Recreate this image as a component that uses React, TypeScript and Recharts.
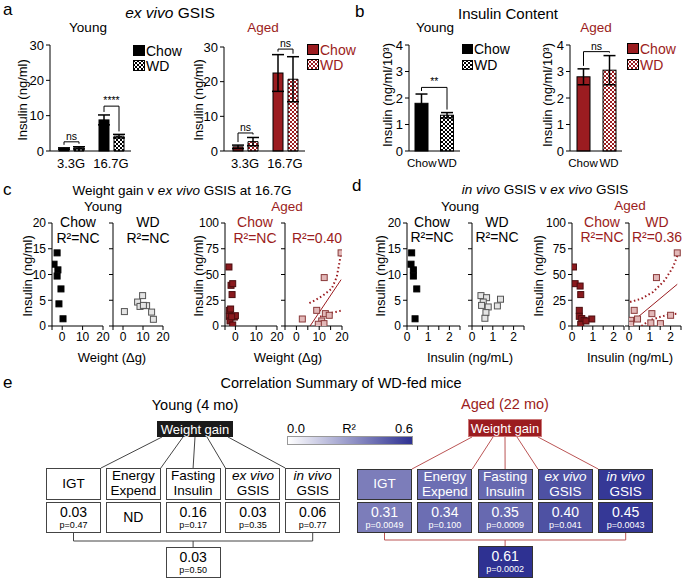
import React from 'react'
import { BarChart, Bar, XAxis, YAxis, ErrorBar, ScatterChart, Scatter } from 'recharts'

const FONT = 'Arial, "Liberation Sans", Helvetica, sans-serif'
const RED = '#9b1c20'
const NAVY = '#2e3192'

// a: ex vivo GSIS
const glucose = ['3.3G', '16.7G']
const gsisYoungChow = [0.7, 8.8]
const gsisYoungChowErr = [0.2, 1.4]
const gsisYoungWd = [0.9, 4.2]
const gsisYoungWdErr = [0.3, 0.5]
const gsisAgedChow = [1.2, 22.5]
const gsisAgedChowErr = [0.5, 5.3]
const gsisAgedWd = [2.7, 20.7]
const gsisAgedWdErr = [1.2, 6.5]
const gsisYoungSig: [number, string][] = [[2.6, 'ns'], [12.7, '****']]
const gsisAgedSig: [number, string][] = [[5.2, 'ns'], [29.4, 'ns']]
const gsisTicks = [0, 10, 20, 30]

// b: insulin content
const diets = ['Chow', 'WD']
const contentYoung = [1.8, 1.35]
const contentYoungErr = [0.35, 0.1]
const contentAged = [2.8, 3.05]
const contentAgedErr = [0.3, 0.55]
const contentYoungSig: [number, string] = [2.4, '**']
const contentAgedSig: [number, string] = [3.75, 'ns']
const contentTicks = [0, 1, 2, 3, 4]

// c: weight gain v ex vivo GSIS at 16.7G
const wgTicks = [-5, 0, 5, 10, 15, 20]
const wgLabels = [0, 10, 20]
const wgYoungChowX = [-4.0, -2.5, -2.1, -2.5, -0.6, -1.6, 0.4]
const wgYoungChowY = [12.0, 14.2, 10.9, 9.7, 7.2, 4.3, 1.4]
const wgYoungWdX = [0.7, 7.3, 9.8, 8.5, 11.8, 14.3, 15.2, 10.2]
const wgYoungWdY = [2.8, 4.65, 5.9, 3.8, 3.95, 2.7, 1.3, 4.0]
const wgAgedChowX = [-3.1, -2.1, -1.3, -1.6, -2.9, -2.3, -2.9, -0.5, -2.6, -1.3, 0.0, -1.8]
const wgAgedChowY = [57.3, 39.5, 41.1, 30.5, 15.2, 16.5, 9.4, 8.7, 4.9, 1.0, 10.0, 9.0]
const wgAgedWdX = [2.6, 8.9, 12.2, 19.6, 12.7, 14.4, 11.1, 12.1, 9.6]
const wgAgedWdY = [6.8, 15.2, 47, 71, 12, 10.4, 4.9, 2.3, 1.7]
const wgFitX = [6.0, 19.6]
const wgFitY = [0, 45]
const wgUpperX = [5.7, 8.2, 11.8, 15.5, 17.7, 19.6]
const wgUpperY = [22.3, 25, 29.8, 36.3, 47.6, 70.5]
const wgLowerX = [10.4, 13.3, 16.2, 19.6]
const wgLowerY = [9, 11.6, 13.2, 14.8]

// d: in vivo GSIS v ex vivo GSIS
const ivTicks = [0, 0.5, 1, 1.5, 2, 2.5]
const ivLabels = [0, 1, 2]
const ivYoungChowX = [0.22, 0.19, 0.3, 0.3, 0.46, 0.38]
const ivYoungChowY = [14.2, 12.0, 10.9, 9.7, 7.2, 1.4]
const ivYoungWdX = [0.43, 0.7, 0.54, 0.46, 0.78, 0.67, 0.62, 1.22, 1.37]
const ivYoungWdY = [5.9, 5.5, 4.65, 4.0, 3.7, 2.6, 1.5, 3.9, 5.2]
const ivAgedChowX = [0.07, 0.15, 0.39, 0.42, 0.35, 0.35, 0.47, 0.58, 0.42, 0.95, 0.67]
const ivAgedChowY = [57.3, 41.1, 38.8, 30.5, 15.2, 9.4, 7.2, 5.5, 1.7, 6.8, 4.9]
const ivAgedWdX = [0.08, 0.08, 0.25, 0.41, 1.32, 2.32, 1.1, 1.05, 1.51, 2.0]
const ivAgedWdY = [5.5, 1.7, 15.2, 6.8, 47, 71, 12, 3, 2.3, 10.4]
const ivFitX = [0.05, 2.32]
const ivFitY = [2.3, 40.5]
const ivUpperX = [0.05, 0.6, 1.16, 1.72, 2.12, 2.36]
const ivUpperY = [23.3, 26.5, 33, 44.4, 57.3, 70.2]
const ivLowerX = [0.6, 1.0, 1.48, 1.95, 2.36]
const ivLowerY = [0, 5.5, 8.7, 11.3, 11.9]

const smallTicks = [0, 5, 10, 15, 20]
const bigTicks = [0, 25, 50, 75, 100]

// e: correlation summary
const measures = [['IGT'], ['Energy', 'Expend'], ['Fasting', 'Insulin'], ['ex vivo', 'GSIS'], ['in vivo', 'GSIS']]
const youngR2 = ['0.03', 'ND', '0.16', '0.03', '0.06']
const youngP = ['p=0.47', '', 'p=0.17', 'p=0.35', 'p=0.77']
const agedR2 = [0.31, 0.34, 0.35, 0.40, 0.45]
const agedP = ['p=0.0049', 'p=0.100', 'p=0.0009', 'p=0.041', 'p=0.0043']
const youngTotal = ['0.03', 'p=0.50']
const agedTotal: [number, string] = [0.61, 'p=0.0002']

type Box = [number, number, number, number]
const YW = 34
const XH = 22
const MT = 10
const MR = 8
const TICK = { fontSize: 12, fill: '#000' }
const BAR_TICK = { fontSize: 13, fill: '#000' }
const AX = { stroke: '#000' }

const dims = (b: Box) => ({
  width: b[2] - b[0] + YW + MR,
  height: b[3] - b[1] + MT + XH,
  margin: { top: MT, right: MR, left: 0, bottom: 0 },
})

function Frame({ box, children }: { box: Box; children: React.ReactNode }) {
  return <div style={{ position: 'absolute', left: box[0] - YW, top: box[1] - MT }}>{children}</div>
}

function T({ x, y, s = 12, c = '#000', a = 'middle', rot = false, children, style }: any) {
  const tx = a === 'middle' ? '-50%' : a === 'end' ? '-100%' : '0'
  return (
    <div
      style={{
        position: 'absolute', left: x, top: y, fontSize: s, color: c, whiteSpace: 'nowrap', lineHeight: 1,
        transform: `translate(${tx}, -50%)${rot ? ' rotate(-90deg)' : ''}`, ...style,
      }}
    >
      {children}
    </div>
  )
}

const checker = (id: string, color: string) => (
  <pattern id={id} width={4} height={4} patternUnits="userSpaceOnUse">
    <rect width={4} height={4} fill="#fff" />
    <rect width={2} height={2} fill={color} />
    <rect x={2} y={2} width={2} height={2} fill={color} />
  </pattern>
)

function Swatch({ x, y, size, fill, pid, color, label, textColor }: any) {
  return (
    <>
      <svg style={{ position: 'absolute', left: x, top: y }} width={size + 1} height={size + 1}>
        <defs>{pid && checker(pid, color)}</defs>
        <rect x={0.5} y={0.5} width={size} height={size - 1} fill={pid ? `url(#${pid})` : fill} stroke="#000" />
      </svg>
      <T x={x + size + 2} y={y + size / 2} s={14} c={textColor} a="start">{label}</T>
    </>
  )
}

const BAR_GAP = 5

function GsisPanel({ box, chow, chowErr, wd, wdErr, sig, chowFill, pid, checkColor }: any) {
  const rows = glucose.map((cat, i) => ({
    cat, chow: chow[i], chowErr: chowErr[i], wd: wd[i], wdErr: wdErr[i], sy: sig[i][0], st: sig[i][1],
  }))
  const shape = (p: any) => {
    const { x, y, width, height, payload } = p
    const k = height / payload.chow
    const base = y + height
    const at = (v: number) => base - v * k
    const lx = x + width / 2
    const rx = lx + width + BAR_GAP
    const by = at(payload.sy)
    return (
      <g>
        <rect x={x} y={y} width={width} height={height} fill={chowFill} stroke="#000" />
        <path
          d={`M${lx},${at(payload.chow + payload.chowErr) - 3}V${by}H${rx}V${at(payload.wd + payload.wdErr) - 3}`}
          fill="none" stroke="#000"
        />
        <text x={(lx + rx) / 2} y={by - 2} textAnchor="middle" fontSize={10.5}>{payload.st}</text>
      </g>
    )
  }
  const d = dims(box)
  return (
    <Frame box={box}>
      <BarChart data={rows} width={d.width} height={d.height} margin={d.margin} barSize={10} barGap={BAR_GAP}>
        <defs>{checker(pid, checkColor)}</defs>
        <XAxis dataKey="cat" height={XH} tickLine={false} axisLine={AX} tick={BAR_TICK} interval={0} padding={{ left: 1, right: 0 }} />
        <YAxis width={YW} domain={[0, 30]} ticks={gsisTicks} tick={BAR_TICK} tickSize={4} axisLine={AX} tickLine={AX} />
        <Bar dataKey="chow" fill={chowFill} stroke="#000" shape={shape} isAnimationActive={false}>
          <ErrorBar dataKey="chowErr" width={6} stroke="#000" isAnimationActive={false} />
        </Bar>
        <Bar dataKey="wd" fill={`url(#${pid})`} stroke="#000" isAnimationActive={false}>
          <ErrorBar dataKey="wdErr" width={6} stroke="#000" isAnimationActive={false} />
        </Bar>
      </BarChart>
    </Frame>
  )
}

function ContentPanel({ box, vals, errs, sig, chowFill, pid, checkColor }: any) {
  const rows = diets.map((cat, i) => ({ cat, v: vals[i], err: errs[i] }))
  const band = (box[2] - box[0]) / 2
  const shape = (p: any) => {
    const { x, y, width, height, index } = p
    const fill = index === 0 ? chowFill : `url(#${pid})`
    if (index !== 0) return <rect x={x} y={y} width={width} height={height} fill={fill} stroke="#000" />
    const k = height / vals[0]
    const base = y + height
    const at = (v: number) => base - v * k
    const lx = x + width / 2
    const rx = lx + band
    const by = at(sig[0])
    return (
      <g>
        <rect x={x} y={y} width={width} height={height} fill={fill} stroke="#000" />
        <path d={`M${lx},${at(vals[0] + errs[0]) - 3}V${by}H${rx}V${at(vals[1] + errs[1]) - 3}`} fill="none" stroke="#000" />
        <text x={(lx + rx) / 2} y={by - 2} textAnchor="middle" fontSize={10.5}>{sig[1]}</text>
      </g>
    )
  }
  const d = dims(box)
  return (
    <Frame box={box}>
      <BarChart data={rows} width={d.width} height={d.height} margin={d.margin} barSize={13}>
        <defs>{checker(pid, checkColor)}</defs>
        <XAxis dataKey="cat" height={XH} tickLine={false} axisLine={AX} tick={{ fontSize: 11.5, fill: '#000' }} interval={0} />
        <YAxis width={YW} domain={[0, 4]} ticks={contentTicks} tick={BAR_TICK} tickSize={4} axisLine={AX} tickLine={AX} />
        <Bar dataKey="v" shape={shape} isAnimationActive={false}>
          <ErrorBar dataKey="err" width={6} stroke="#000" isAnimationActive={false} />
        </Bar>
      </BarChart>
    </Frame>
  )
}

const pts = (xs: number[], ys: number[]) => xs.map((x, i) => ({ x, y: ys[i] }))
const square = (fill: string, stroke: string) => (p: any) => (
  <rect x={p.cx - 3} y={p.cy - 3} width={6} height={6} fill={fill} stroke={stroke} strokeWidth={1} />
)
const none = () => <g />

function ScatterPanel({ box, xDomain, xTicks, xLabels, yDomain, yTicks, showY, series }: any) {
  const d = dims(box)
  return (
    <Frame box={box}>
      <ScatterChart width={d.width} height={d.height} margin={d.margin}>
        <XAxis
          type="number" dataKey="x" domain={xDomain} ticks={xTicks} height={XH} tick={TICK} tickSize={4}
          axisLine={AX} tickLine={AX} allowDataOverflow
          tickFormatter={(v: number) => (xLabels.includes(v) ? String(v) : '')}
        />
        <YAxis
          type="number" dataKey="y" domain={yDomain} ticks={yTicks} width={YW} tick={TICK} tickSize={4}
          axisLine={AX} tickLine={AX} allowDataOverflow
          tickFormatter={(v: number) => (showY ? String(v) : '')}
        />
        {series.map((s: any, i: number) =>
          s.line ? (
            <Scatter key={i} data={s.data} shape={none} line={{ stroke: RED, strokeWidth: s.w, strokeDasharray: s.dash }} isAnimationActive={false} />
          ) : (
            <Scatter key={i} data={s.data} shape={square(s.fill, s.stroke)} isAnimationActive={false} />
          ),
        )}
      </ScatterChart>
    </Frame>
  )
}

const blackPts = (d: any) => ({ data: d, fill: '#000', stroke: '#000' })
const grayPts = (d: any) => ({ data: d, fill: '#e4e4e4', stroke: '#555' })
const redPts = (d: any) => ({ data: d, fill: '#8a1a1e', stroke: '#4a0d0f' })
const pinkPts = (d: any) => ({ data: d, fill: '#e2b8b8', stroke: '#8a3a3a' })
const fitLine = (d: any) => ({ data: d, line: true, w: 1 })
const bandLine = (d: any) => ({ data: d, line: true, w: 2, dash: '1.5 2.5' })

function r2Color(r: number) {
  const f = Math.max(0, Math.min(1, (r / 0.6) * 1.45 - 0.12))
  const mix = (a: number, b: number) => Math.round(a + (b - a) * f)
  return `rgb(${mix(255, 46)},${mix(255, 49)},${mix(255, 146)})`
}

function Summary() {
  const bw = 55
  const yl = (i: number) => 46 + i * 59.8
  const al = (i: number) => 357 + i * 60.3
  const offs = [-33, -12, 0, 12, 33]
  const tops = (left: (i: number) => number) => [left(0) + bw, left(1) + bw, left(2) + bw / 2, left(3), left(4)]
  const box = (x: number, y: number, h: number, bg: string, fg: string, border: string, content: React.ReactNode, key: any) => (
    <div
      key={key}
      style={{
        position: 'absolute', left: x, top: y, width: bw, height: h, boxSizing: 'border-box', background: bg, color: fg,
        border: `1.2px solid ${border}`, display: 'flex', flexDirection: 'column', alignItems: 'center', justifyContent: 'center',
        lineHeight: 1.08, textAlign: 'center',
      }}
    >
      {content}
    </div>
  )
  const label = (m: string[]) => m.map((l, j) => (
    <div key={j} style={{ fontSize: 13.5, fontStyle: l.includes('vivo') ? 'italic' : 'normal' }}>{l}</div>
  ))
  const value = (v: string, p: string) => (
    <>
      <div style={{ fontSize: 14 }}>{v}</div>
      {p && <div style={{ fontSize: 9, marginTop: 1 }}>{p}</div>}
    </>
  )
  const yTops = tops(yl)
  const aTops = tops(al)
  return (
    <>
      <T x={341} y={383} s={14.5}>Correlation Summary of WD-fed mice</T>
      <T x={195} y={405} s={14.5}>Young (4 mo)</T>
      <T x={505} y={404} s={14.5} c={RED}>Aged (22 mo)</T>
      <div style={{ position: 'absolute', left: 157, top: 421, width: 76, height: 16, background: '#1a1a1a', color: '#fff', fontSize: 13, display: 'flex', alignItems: 'center', justifyContent: 'center' }}>Weight gain</div>
      <div style={{ position: 'absolute', left: 468, top: 419, width: 74, height: 18, background: RED, color: '#fff', fontSize: 13, display: 'flex', alignItems: 'center', justifyContent: 'center', border: '1px solid #c77', boxSizing: 'border-box' }}>Weight gain</div>
      <T x={287} y={428} s={13} a="start">0.0</T>
      <T x={349} y={428} s={13}>R²</T>
      <T x={413} y={428} s={13} a="end">0.6</T>
      <div style={{ position: 'absolute', left: 287, top: 436, width: 126, height: 9, boxSizing: 'border-box', border: '1px solid #999', background: `linear-gradient(to right, #fff, ${NAVY})` }} />
      <svg style={{ position: 'absolute', left: 0, top: 0 }} width={685} height={579}>
        {offs.map((o, i) => <line key={'y' + i} x1={195 + o} y1={437} x2={yTops[i]} y2={468} stroke="#444" />)}
        {offs.map((o, i) => <line key={'a' + i} x1={505 + o} y1={437} x2={aTops[i]} y2={469} stroke="#b55" />)}
        <path d={`M${yl(0) + bw / 2},533V541H${yl(4) + bw / 2}V533M${yl(2) + bw / 2},541V547`} fill="none" stroke="#444" />
        <path d={`M${al(0) + bw / 2},533V540H${al(4) + bw / 2}V533M${al(2) + bw / 2},540V546`} fill="none" stroke="#b55" />
      </svg>
      {measures.map((m, i) => box(yl(i), 468, 32, '#fff', '#000', '#444', label(m), 'yl' + i))}
      {measures.map((m, i) => box(yl(i), 502, 31, '#fff', '#000', '#444', value(youngR2[i], youngP[i]), 'yv' + i))}
      {box(yl(2), 547, 31, '#fff', '#000', '#444', value(youngTotal[0], youngTotal[1]), 'yt')}
      {measures.map((m, i) => box(al(i), 469, 31, r2Color(agedR2[i]), '#fff', '#333', label(m), 'al' + i))}
      {measures.map((m, i) => box(al(i), 502, 31, r2Color(agedR2[i]), '#fff', '#333', value(agedR2[i].toFixed(2), agedP[i]), 'av' + i))}
      {box(al(2), 546, 32, r2Color(agedTotal[0]), '#fff', '#333', value(agedTotal[0].toFixed(2), agedTotal[1]), 'at')}
    </>
  )
}

export default function App() {
  return (
    <div style={{ position: 'absolute', left: 0, top: 0, width: 685, height: 579, background: '#fff', fontFamily: FONT, overflow: 'hidden' }}>
      {/* panel letters */}
      <T x={3} y={9} s={17} a="start">a</T>
      <T x={355} y={11} s={17} a="start">b</T>
      <T x={3} y={189} s={17} a="start">c</T>
      <T x={352} y={185} s={17} a="start">d</T>
      <T x={3} y={382} s={17} a="start">e</T>

      {/* a */}
      <T x={170} y={13} s={15.5}><i>ex vivo</i> GSIS</T>
      <T x={88} y={28} s={13.5}>Young</T>
      <T x={263} y={28} s={13.5} c={RED}>Aged</T>
      <T x={22} y={100} s={13} rot>Insulin (ng/ml)</T>
      <T x={198} y={100} s={13} rot>Insulin (ng/ml)</T>
      <GsisPanel box={[50, 45, 131, 151]} chow={gsisYoungChow} chowErr={gsisYoungChowErr} wd={gsisYoungWd} wdErr={gsisYoungWdErr} sig={gsisYoungSig} chowFill="#000" pid="chkAY" checkColor="#000" />
      <GsisPanel box={[224, 47, 305, 151]} chow={gsisAgedChow} chowErr={gsisAgedChowErr} wd={gsisAgedWd} wdErr={gsisAgedWdErr} sig={gsisAgedSig} chowFill={RED} pid="chkAA" checkColor={RED} />
      <Swatch x={133} y={45} size={11} fill="#000" label="Chow" />
      <Swatch x={133} y={60} size={11} pid="lgAY" color="#000" label="WD" />
      <Swatch x={307} y={44} size={11} fill={RED} label="Chow" textColor={RED} />
      <Swatch x={307} y={59} size={11} pid="lgAA" color={RED} label="WD" textColor={RED} />

      {/* b */}
      <T x={508} y={13} s={15}>Insulin Content</T>
      <T x={435} y={28} s={13.5}>Young</T>
      <T x={596} y={28} s={13.5} c={RED}>Aged</T>
      <T x={387} y={95} s={13} rot>Insulin (ng/ml/10³)</T>
      <T x={547} y={95} s={13} rot>Insulin (ng/ml/10³)</T>
      <ContentPanel box={[409, 45, 460, 151]} vals={contentYoung} errs={contentYoungErr} sig={contentYoungSig} chowFill="#000" pid="chkBY" checkColor="#000" />
      <ContentPanel box={[570, 45, 622, 151]} vals={contentAged} errs={contentAgedErr} sig={contentAgedSig} chowFill={RED} pid="chkBA" checkColor={RED} />
      <Swatch x={462} y={44} size={10} fill="#000" label="Chow" />
      <Swatch x={462} y={60} size={10} pid="lgBY" color="#000" label="WD" />
      <Swatch x={627} y={43} size={11} fill={RED} label="Chow" textColor={RED} />
      <Swatch x={627} y={59} size={11} pid="lgBA" color={RED} label="WD" textColor={RED} />

      {/* c */}
      <T x={182} y={191} s={13.5}>Weight gain v <i>ex vivo</i> GSIS at 16.7G</T>
      <T x={103} y={207} s={13.5}>Young</T>
      <T x={287} y={207} s={13.5} c={RED}>Aged</T>
      <T x={78} y={222} s={14}>Chow</T>
      <T x={78} y={238} s={14}>R²=NC</T>
      <T x={148} y={222} s={14}>WD</T>
      <T x={148} y={238} s={14}>R²=NC</T>
      <T x={255} y={222} s={14} c={RED}>Chow</T>
      <T x={255} y={238} s={14} c={RED}>R²=NC</T>
      <T x={317} y={238} s={14} c={RED}>R²=0.40</T>
      <T x={27} y={276} s={13} rot>Insulin (ng/ml)</T>
      <T x={198} y={276} s={13} rot>Insulin (ng/ml)</T>
      <T x={112} y={357} s={13}>Weight (Δg)</T>
      <T x={288} y={357} s={13}>Weight (Δg)</T>
      <ScatterPanel box={[52, 223, 103, 326]} xDomain={[-5, 20]} xTicks={wgTicks} xLabels={wgLabels} yDomain={[0, 20]} yTicks={smallTicks} showY series={[blackPts(pts(wgYoungChowX, wgYoungChowY))]} />
      <ScatterPanel box={[113, 223, 163, 326]} xDomain={[-5, 20]} xTicks={wgTicks} xLabels={wgLabels} yDomain={[0, 20]} yTicks={smallTicks} series={[grayPts(pts(wgYoungWdX, wgYoungWdY))]} />
      <ScatterPanel box={[225, 223, 277, 326]} xDomain={[-5, 20]} xTicks={wgTicks} xLabels={wgLabels} yDomain={[0, 100]} yTicks={bigTicks} showY series={[redPts(pts(wgAgedChowX, wgAgedChowY))]} />
      <ScatterPanel
        box={[285, 223, 342, 326]} xDomain={[-5, 20]} xTicks={wgTicks} xLabels={wgLabels} yDomain={[0, 100]} yTicks={bigTicks}
        series={[fitLine(pts(wgFitX, wgFitY)), bandLine(pts(wgUpperX, wgUpperY)), bandLine(pts(wgLowerX, wgLowerY)), pinkPts(pts(wgAgedWdX, wgAgedWdY))]}
      />

      {/* d */}
      <T x={545} y={190} s={13.5}><i>in vivo</i> GSIS v <i>ex vivo</i> GSIS</T>
      <T x={460} y={207} s={13.5}>Young</T>
      <T x={630} y={206} s={13.5} c={RED}>Aged</T>
      <T x={432} y={222} s={14}>Chow</T>
      <T x={432} y={237} s={14}>R²=NC</T>
      <T x={497} y={222} s={14}>WD</T>
      <T x={497} y={237} s={14}>R²=NC</T>
      <T x={602} y={222} s={14} c={RED}>Chow</T>
      <T x={602} y={237} s={14} c={RED}>R²=NC</T>
      <T x={657} y={222} s={14} c={RED}>WD</T>
      <T x={657} y={237} s={14} c={RED}>R²=0.36</T>
      <T x={380} y={276} s={13} rot>Insulin (ng/ml)</T>
      <T x={538} y={276} s={13} rot>Insulin (ng/ml)</T>
      <T x={470} y={357} s={13}>Insulin (ng/mL)</T>
      <T x={630} y={357} s={13}>Insulin (ng/mL)</T>
      <ScatterPanel box={[407, 223, 460, 326]} xDomain={[0, 2.5]} xTicks={ivTicks} xLabels={ivLabels} yDomain={[0, 20]} yTicks={smallTicks} showY series={[blackPts(pts(ivYoungChowX, ivYoungChowY))]} />
      <ScatterPanel box={[472, 223, 524, 326]} xDomain={[0, 2.5]} xTicks={ivTicks} xLabels={ivLabels} yDomain={[0, 20]} yTicks={smallTicks} series={[grayPts(pts(ivYoungWdX, ivYoungWdY))]} />
      <ScatterPanel box={[572, 223, 624, 326]} xDomain={[0, 2.5]} xTicks={ivTicks} xLabels={ivLabels} yDomain={[0, 100]} yTicks={bigTicks} showY series={[redPts(pts(ivAgedChowX, ivAgedChowY))]} />
      <ScatterPanel
        box={[629, 223, 681, 326]} xDomain={[0, 2.5]} xTicks={ivTicks} xLabels={ivLabels} yDomain={[0, 100]} yTicks={bigTicks}
        series={[fitLine(pts(ivFitX, ivFitY)), bandLine(pts(ivUpperX, ivUpperY)), bandLine(pts(ivLowerX, ivLowerY)), pinkPts(pts(ivAgedWdX, ivAgedWdY))]}
      />

      {/* e */}
      <Summary />
    </div>
  )
}
